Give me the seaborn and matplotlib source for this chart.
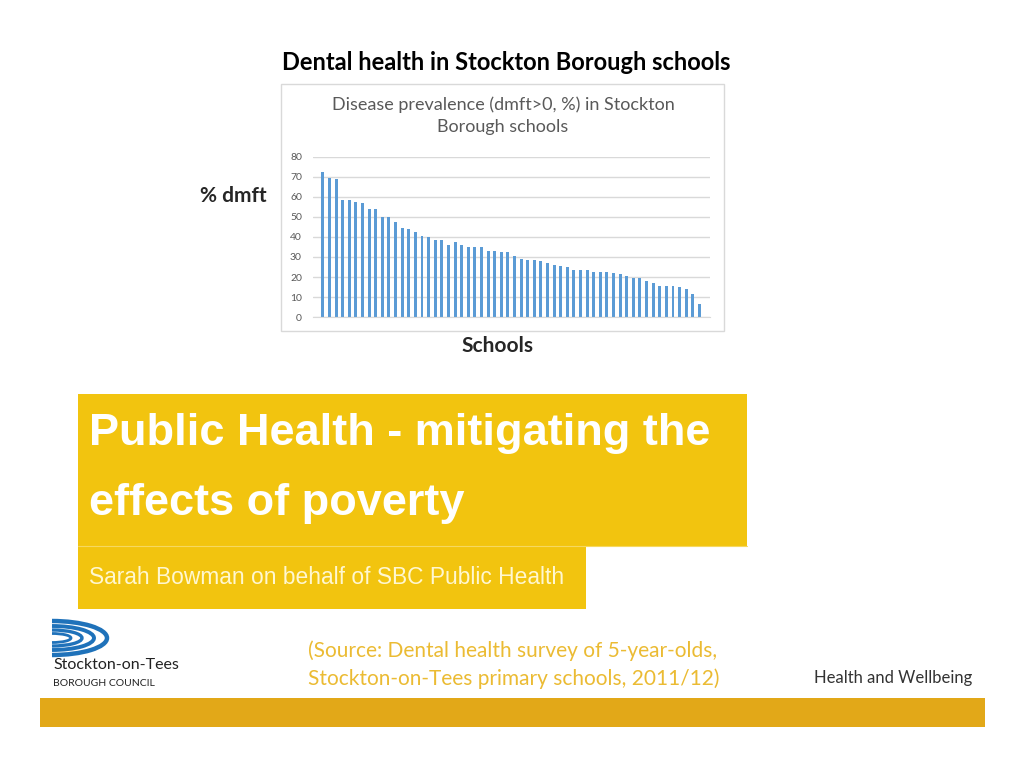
import matplotlib
matplotlib.use("Agg")
import matplotlib.pyplot as plt
from matplotlib.patches import Rectangle, Arc
import numpy as np
import pandas as pd
import seaborn as sns

# dmft>0 prevalence per school, sorted
prevalence = [72.5, 69.5, 68.8, 58.7, 58.7, 57.7, 57.2, 54.0, 54.0, 49.8,
              49.8, 47.7, 44.3, 43.8, 42.7, 40.7, 40.2, 38.5, 38.5, 36.0,
              37.5, 35.8, 35.2, 35.2, 35.2, 33.2, 33.2, 32.7, 32.7, 30.5,
              29.0, 28.5, 28.5, 27.8, 27.2, 26.2, 25.7, 25.2, 23.7, 23.7,
              23.7, 22.7, 22.7, 22.7, 22.2, 21.5, 20.3, 19.3, 19.3, 18.2,
              17.2, 15.7, 15.7, 15.7, 15.2, 14.0, 11.3, 6.7]
schools = [f"S{i + 1}" for i in range(len(prevalence))]
y_ticks = [0, 10, 20, 30, 40, 50, 60, 70, 80]

W, H = 1024, 768
YELLOW = "#F2C40F"
BAND = "#E2A818"
SOURCE = "#EBBB33"

sns.set_style("white")
plt.rcParams["font.family"] = ["Lato", "DejaVu Sans"]

fig = plt.figure(figsize=(W / 100, H / 100), dpi=100)

# background layer in pixel coordinates
bg = fig.add_axes([0, 0, 1, 1], zorder=0)
bg.set_xlim(0, W)
bg.set_ylim(H, 0)
bg.axis("off")

bg.add_patch(Rectangle((281, 84), 443, 247, facecolor="white", edgecolor="#D9D9D9", lw=1))
bg.add_patch(Rectangle((78, 394), 669, 152, facecolor=YELLOW, edgecolor="none"))
bg.add_patch(Rectangle((78, 546), 508, 63, facecolor=YELLOW, edgecolor="none"))
bg.plot([78, 747], [546, 546], color="#F6D860", lw=0.8)
bg.add_patch(Rectangle((40, 698), 945, 29, facecolor=BAND, edgecolor="none"))

bg.text(506, 62, "Dental health in Stockton Borough schools", ha="center", va="center",
        fontsize=17, fontweight="bold", color="black")
bg.text(503, 116, "Disease prevalence (dmft>0, %) in Stockton\nBorough schools", ha="center",
        va="center", fontsize=13, color="#595959", linespacing=1.45)
bg.text(233, 196, "% dmft", ha="center", va="center", fontsize=15, fontweight="bold")
bg.text(497, 346, "Schools", ha="center", va="center", fontsize=15, fontweight="bold")

bg.text(89, 433, "Public Health - mitigating the", ha="left", va="center", fontsize=32.5,
        fontweight="bold", color="white", family="Liberation Sans")
bg.text(89, 503, "effects of poverty", ha="left", va="center", fontsize=32.5,
        fontweight="bold", color="white", family="Liberation Sans")
bg.text(89, 577, "Sarah Bowman on behalf of SBC Public Health", ha="left", va="center",
        fontsize=16.4, color="#FFF7D0", family="Liberation Sans")

bg.text(308, 651, "(Source: Dental health survey of 5-year-olds,", ha="left", va="center",
        fontsize=15, color=SOURCE)
bg.text(308, 679, "Stockton-on-Tees primary schools, 2011/12)", ha="left", va="center",
        fontsize=15, color=SOURCE)
bg.text(972, 678, "Health and Wellbeing", ha="right", va="center", fontsize=12, color="#333333")

# logo
for k, (w, h) in enumerate([(110, 34), (84, 24), (60, 16), (38, 9)]):
    bg.add_patch(Arc((52, 638), w, h, theta1=-90, theta2=90, color="#1F72BA", lw=3.2 - k * 0.4))
bg.text(53, 665, "Stockton-on-Tees", ha="left", va="center", fontsize=11.5, color="#222222")
bg.text(53, 683, "BOROUGH COUNCIL", ha="left", va="center", fontsize=7.5, color="#222222")

# chart
ax = fig.add_axes([313 / W, 1 - 317 / H, 397 / W, 160 / H], zorder=2)
ax.patch.set_alpha(0)
df = pd.DataFrame({"school": schools, "prevalence": prevalence})
sns.barplot(data=df, x="school", y="prevalence", color="#5B9BD5", saturation=1,
            width=0.45, linewidth=0, ax=ax)
ax.set_xlim(-1.5, 58.6)
ax.set_ylim(0, 80)
ax.set_yticks(y_ticks)
ax.set_xticks([])
ax.set_xlabel("")
ax.set_ylabel("")
ax.yaxis.grid(True, color="#D9D9D9", lw=1)
ax.set_axisbelow(True)
ax.tick_params(axis="y", length=0, labelsize=7.5, labelcolor="#595959", pad=8)
for side in ["top", "right", "left"]:
    ax.spines[side].set_visible(False)
ax.spines["bottom"].set_color("#D9D9D9")

fig.savefig("out.png", dpi=100)
